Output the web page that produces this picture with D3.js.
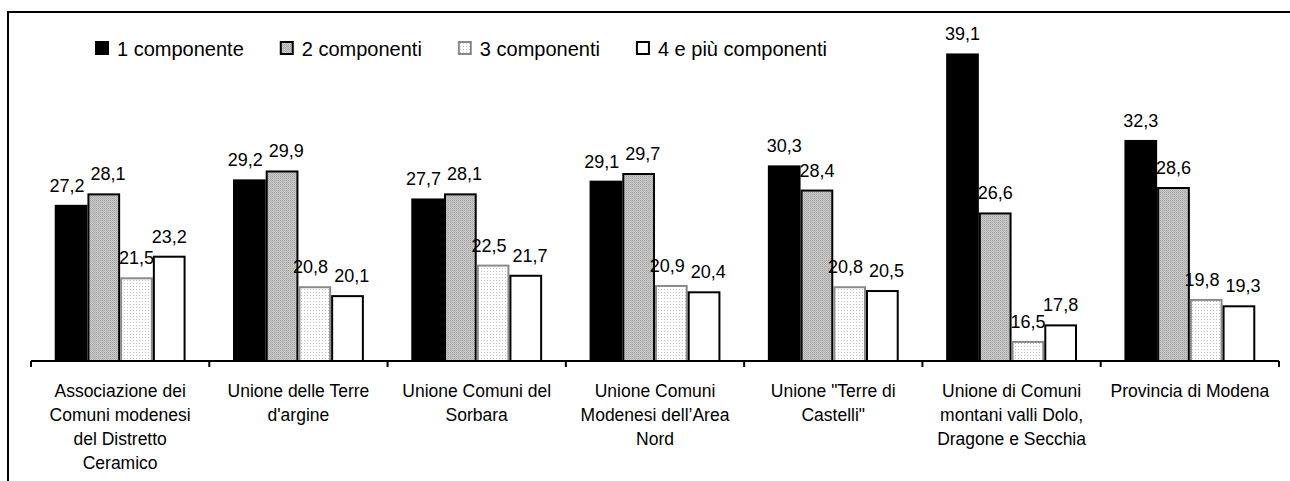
<!DOCTYPE html>
<html>
<head>
<meta charset="utf-8">
<script src="https://cdn.jsdelivr.net/npm/d3@7"></script>
<style>
  html, body { margin: 0; padding: 0; background: #fff; }
  svg { display: block; }
  text { font-family: "Liberation Sans", Arial, sans-serif; fill: #000; }
</style>
</head>
<body>
<svg id="chart" width="1290" height="481"></svg>
<script>
const categories = [
  "Associazione dei|Comuni modenesi|del Distretto|Ceramico",
  "Unione delle Terre|d'argine",
  "Unione Comuni del|Sorbara",
  "Unione Comuni|Modenesi dell’Area|Nord",
  "Unione \"Terre di|Castelli\"",
  "Unione di Comuni|montani valli Dolo,|Dragone e Secchia",
  "Provincia di Modena"
];
const seriesNames = ["1 componente", "2 componenti", "3 componenti", "4 e più componenti"];
const s1 = [27.2, 29.2, 27.7, 29.1, 30.3, 39.1, 32.3];
const s2 = [28.1, 29.9, 28.1, 29.7, 28.4, 26.6, 28.6];
const s3 = [21.5, 20.8, 22.5, 20.9, 20.8, 16.5, 19.8];
const s4 = [23.2, 20.1, 21.7, 20.4, 20.5, 17.8, 19.3];
const yDomain = [15, 40];

const seriesValues = [s1, s2, s3, s4];
const svg = d3.select("#chart");
const defs = svg.append("defs");

// patterns
const pGray = defs.append("pattern").attr("id", "pGray").attr("patternUnits", "userSpaceOnUse")
  .attr("width", 2).attr("height", 2);
pGray.append("rect").attr("width", 2).attr("height", 2).attr("fill", "#c8c8c8");
pGray.append("rect").attr("width", 1).attr("height", 1).attr("fill", "#a8a8a8");
pGray.append("rect").attr("x", 1).attr("y", 1).attr("width", 1).attr("height", 1).attr("fill", "#b4b4b4");

const pDot = defs.append("pattern").attr("id", "pDot").attr("patternUnits", "userSpaceOnUse")
  .attr("width", 3).attr("height", 3);
pDot.append("rect").attr("width", 3).attr("height", 3).attr("fill", "#fff");
pDot.append("rect").attr("x", 1).attr("y", 1).attr("width", 1).attr("height", 1).attr("fill", "#c0c0c0");

const fills = ["#000", "url(#pGray)", "url(#pDot)", "#fff"];
const strokes = ["#000", "#000", "#8a8a8a", "#000"];

// frame
svg.append("rect").attr("x", 8).attr("y", 12).attr("width", 1300).attr("height", 500)
  .attr("fill", "none").attr("stroke", "#000").attr("stroke-width", 2);

const x0 = d3.scaleBand().domain(categories).range([31, 1279]).padding(0);
const bw = x0.bandwidth();
const x1 = d3.scaleBand().domain(d3.range(4)).range([bw * 0.133, bw * 0.867]).padding(0);
const y = d3.scaleLinear().domain(yDomain).range([361, 43]);

const data = [];
categories.forEach((c, i) => {
  seriesValues.forEach((arr, s) => data.push({ c, i, s, v: arr[i] }));
});

const gBars = svg.append("g");
gBars.selectAll("rect").data(data).enter().append("rect")
  .attr("x", d => x0(d.c) + x1(d.s) + 1)
  .attr("y", d => y(d.v))
  .attr("width", x1.bandwidth() - 2)
  .attr("height", d => y(yDomain[0]) - y(d.v))
  .attr("fill", d => fills[d.s])
  .attr("stroke", d => strokes[d.s])
  .attr("stroke-width", 2);

// value labels
const labels = svg.append("g").selectAll("text").data(data).enter().append("text")
  .attr("x", d => x0(d.c) + x1(d.s) + x1.bandwidth() / 2)
  .attr("y", d => y(d.v) - 14)
  .attr("text-anchor", "middle")
  .style("font-size", "18px")
  .text(d => d3.format(".1f")(d.v).replace(".", ","));

// simple collision avoidance between neighbouring labels in a group
labels.each(function (d) { d.cx = x0(d.c) + x1(d.s) + x1.bandwidth() / 2; d.w = this.getComputedTextLength(); d.ly = y(d.v) - 14; });
categories.forEach((c, i) => {
  const grp = data.filter(d => d.i === i);
  for (let k = 0; k < grp.length - 1; k++) {
    const a = grp[k], b = grp[k + 1];
    if (Math.abs(a.ly - b.ly) < 16) {
      const need = (a.w + b.w) / 2 + 6 - (b.cx - a.cx);
      if (need > 0) { a.cx -= need / 2; b.cx += need / 2; }
    }
  }
});
labels.attr("x", d => d.cx);

// axis
const axis = d3.axisBottom(x0).tickSize(0).tickFormat("");
const gAxis = svg.append("g").attr("transform", `translate(0,${y(yDomain[0])})`).call(axis);
gAxis.select(".domain").attr("stroke", "#000").attr("stroke-width", 2).attr("d", `M31,0H1279`);
const bounds = categories.map(c => x0(c)).concat([x0.range()[1]]);
gAxis.selectAll(".bound").data(bounds).enter().append("line").attr("class", "bound")
  .attr("x1", d => d).attr("x2", d => d).attr("y1", 0).attr("y2", 6)
  .attr("stroke", "#000").attr("stroke-width", 2);

// category labels
const gCat = svg.append("g");
categories.forEach(c => {
  const lines = c.split("|");
  const t = gCat.append("text")
    .attr("text-anchor", "middle")
    .style("font-size", "17.5px");
  lines.forEach((ln, k) => {
    t.append("tspan").attr("x", x0(c) + bw / 2).attr("y", 397 + k * 24).text(ln);
  });
});

// legend
const gLeg = svg.append("g");
let lx = 96;
seriesNames.forEach((name, s) => {
  gLeg.append("rect").attr("x", lx).attr("y", 42).attr("width", 12).attr("height", 12)
    .attr("fill", fills[s]).attr("stroke", s === 2 ? "#8a8a8a" : "#000").attr("stroke-width", 2);
  const t = gLeg.append("text").attr("x", lx + 21).attr("y", 55.5)
    .style("font-size", "20px").text(name);
  lx += 21 + t.node().getComputedTextLength() + 37;
});
</script>
</body>
</html>
